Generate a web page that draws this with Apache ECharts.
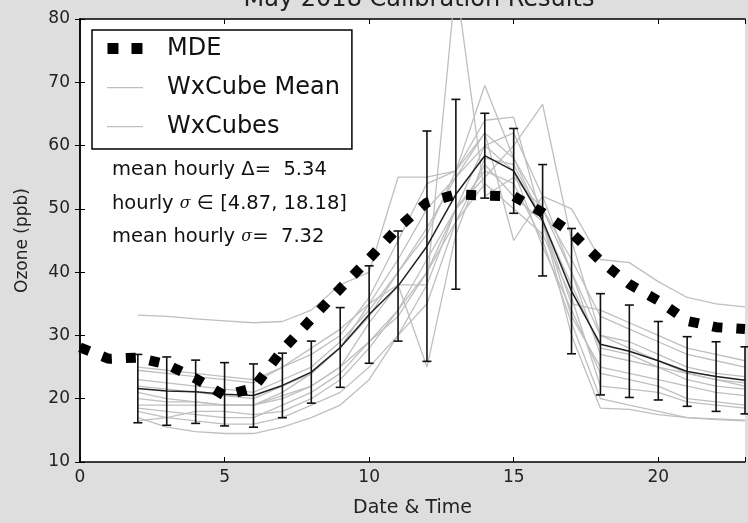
<!DOCTYPE html>
<html>
<head>
<meta charset="utf-8">
<script src="https://cdn.jsdelivr.net/npm/echarts@6/dist/echarts.min.js"></script>
<style>
  html, body { margin: 0; padding: 0; background: #dedede; }
  #chart { width: 748px; height: 523px; }
</style>
</head>
<body>
<div id="chart"></div>
<script>
// hours 0..23
var hours = [0,1,2,3,4,5,6,7,8,9,10,11,12,13,14,15,16,17,18,19,20,21,22,23];

// MDE observed ozone (ppb)
var mde = [28.1, 26.3, 26.5, 25.4, 23.2, 20.5, 21.7, 27.7, 32.6, 37.4, 42.1, 47.0,
           51.0, 52.3, 52.1, 52.0, 49.4, 46.2, 41.8, 38.1, 35.5, 32.3, 31.3, 31.0];

// WxCube ensemble mean and hourly sigma (starts at hour 2)
var cubeMean = [null, null, 21.6, 21.2, 21.1, 20.7, 20.5, 22.1, 24.2, 28.1, 33.3, 37.8,
                44.1, 52.3, 58.4, 56.0, 48.2, 37.0, 28.6, 27.5, 26.0, 24.3, 23.5, 22.9];
var cubeSigma = [null, null, 5.4, 5.4, 5.0, 5.0, 5.0, 5.1, 4.9, 6.3, 7.7, 8.7,
                 18.2, 15.0, 6.7, 6.7, 8.8, 9.9, 8.0, 7.3, 6.2, 5.5, 5.5, 5.3];

// individual WxCube members, hours 2..23
var cube01 = [33.2, 33.0, 32.6, 32.3, 32.0, 32.2, 34, 38, 40, 55, 55, 56, 62, 58, 50, 40, 30, 28, 26, 24, 23, 22];
var cube02 = [25, 24.5, 24, 23.5, 23, 25, 28, 31, 35, 38, 38, 86, 52, 55, 50, 42, 33, 31, 29, 27, 26, 25];
var cube03 = [23, 22.5, 22, 21.5, 21, 23, 25, 29, 34, 40, 46, 56, 69.5, 58, 48, 38, 28, 27, 25, 24, 23, 22.5];
var cube04 = [20, 19.5, 19.5, 19, 19, 20, 22, 25, 29, 33, 40, 50, 55, 60, 66.5, 45, 30, 29, 27, 25, 24, 23.5];
var cube05 = [22, 21.5, 21, 20.5, 20, 22, 24, 28, 33, 40, 47, 55, 62, 45, 52, 40, 27, 26, 25, 23, 22, 21.5];
var cube06 = [19, 19, 19, 19, 19, 21, 24, 28, 35, 42, 50, 55, 60, 62, 52, 50, 42, 41.5, 38.5, 36, 35, 34.5];
var cube07 = [17, 15.5, 14.8, 14.5, 14.5, 15.5, 17, 19, 23, 30, 38, 50, 56, 54, 45, 32, 20, 19, 18, 17, 16.7, 16.5];
var cube08 = [18, 17, 16.5, 16, 16, 17, 19, 21, 25, 30, 35, 48, 57, 52, 48, 30, 18.5, 18.3, 17.5, 17, 16.8, 16.6];
var cube09 = [24.5, 24, 23.5, 23, 22.5, 25, 27, 30, 36, 45, 54, 56, 64, 64.5, 48, 35, 34, 32, 30, 28, 27, 26];
var cube10 = [21, 20, 19.5, 19, 19, 20.5, 22, 25, 32, 38, 25, 46, 58, 57, 48, 33, 25, 24, 23, 22, 21, 20.5];
var cube11 = [16.5, 17, 18, 18, 17.5, 18, 20, 23, 28, 34, 42, 50, 60, 56, 44, 34, 24, 23, 22, 20, 19.5, 19];
var cube12 = [18.5, 18, 17.5, 17, 17, 19, 21, 24, 29, 34, 40, 48, 54, 50, 46, 36, 22, 21.5, 21, 19.5, 19, 18.5];
var cubes = [cube01, cube02, cube03, cube04, cube05, cube06, cube07, cube08, cube09, cube10, cube11, cube12];

var xTicks = [0, 5, 10, 15, 20];
var yTicks = [10, 20, 30, 40, 50, 60, 70, 80];

var FONT = 'DejaVu Sans';
var GREY = '#bfbfbf';
var chart = echarts.init(document.getElementById('chart'));

function pairs(xs, ys) {
    var out = [];
    for (var i = 0; i < xs.length; i++) {
        if (ys[i] != null) out.push([xs[i], ys[i]]);
    }
    return out;
}

var series = [];
cubes.forEach(function (c) {
    series.push({
        name: 'WxCubes',
        type: 'line',
        data: pairs(hours.slice(2), c),
        symbol: 'none',
        clip: true,
        itemStyle: { color: GREY },
        lineStyle: { color: GREY, width: 1.3 },
        z: 2,
        silent: true
    });
});

series.push({
    name: 'WxCube Mean',
    type: 'line',
    data: pairs(hours, cubeMean),
    symbol: 'none',
    itemStyle: { color: GREY },
    lineStyle: { color: '#222', width: 1.5 },
    z: 3
});

// error bars (mean +/- sigma)
var errData = [];
hours.forEach(function (h, i) {
    if (cubeMean[i] != null) errData.push([h, cubeMean[i] - cubeSigma[i], cubeMean[i] + cubeSigma[i]]);
});
series.push({
    type: 'custom',
    data: errData,
    z: 4,
    renderItem: function (params, api) {
        var lo = api.coord([api.value(0), api.value(1)]);
        var hi = api.coord([api.value(0), api.value(2)]);
        var st = { stroke: '#111', lineWidth: 1.6 };
        return {
            type: 'group',
            children: [
                { type: 'line', shape: { x1: lo[0], y1: lo[1], x2: hi[0], y2: hi[1] }, style: st },
                { type: 'line', shape: { x1: lo[0] - 4.5, y1: lo[1], x2: lo[0] + 4.5, y2: lo[1] }, style: st },
                { type: 'line', shape: { x1: hi[0] - 4.5, y1: hi[1], x2: hi[0] + 4.5, y2: hi[1] }, style: st }
            ]
        };
    }
});

series.push({
    name: 'MDE',
    type: 'line',
    data: pairs(hours, mde),
    symbol: 'none',
    itemStyle: { color: '#000' },
    lineStyle: { color: '#000', width: 10, type: [10, 14], cap: 'butt' },
    z: 5
});

var lineIcon = 'path://M0,5h36v1.3h-36z M0,0h0.01v0.01h-0.01z M0,11h0.01v0.01h-0.01z';
var dotIcon = 'path://M0,0h11v11h-11z M24,0h11v11h-11z';

var option = {
    backgroundColor: '#dedede',
    animation: false,
    textStyle: { fontFamily: FONT },
    grid: { left: 80, top: 19, width: 673, height: 445, show: true, backgroundColor: '#fff', borderWidth: 0 },
    xAxis: [{
        type: 'value', min: 0, max: 23, interval: 5,
        name: 'Date & Time', nameLocation: 'middle', nameGap: 37,
        nameTextStyle: { fontSize: 19, color: '#222', fontFamily: FONT },
        axisLine: { lineStyle: { color: '#000', width: 1.5 } },
        axisTick: { inside: true, length: 5, lineStyle: { color: '#000' } },
        axisLabel: { fontSize: 17, color: '#222', margin: 7, fontFamily: FONT,
            formatter: function (v) { return xTicks.indexOf(v) >= 0 ? v : ''; } },
        splitLine: { show: false }
    }, {
        type: 'value', min: 0, max: 23, interval: 5, position: 'top',
        axisLine: { lineStyle: { color: '#000', width: 1.5 } },
        axisTick: { inside: true, length: 5, lineStyle: { color: '#000' } },
        axisLabel: { show: false },
        splitLine: { show: false }
    }],
    yAxis: [{
        type: 'value', min: 10, max: 80, interval: 10,
        name: 'Ozone (ppb)', nameLocation: 'middle', nameGap: 49,
        nameTextStyle: { fontSize: 17, color: '#222', fontFamily: FONT },
        axisLine: { show: true, lineStyle: { color: '#000', width: 1.5 } },
        axisTick: { show: true, inside: true, length: 5, lineStyle: { color: '#000' } },
        axisLabel: { fontSize: 17, color: '#222', margin: 10, fontFamily: FONT,
            formatter: function (v) { return yTicks.indexOf(v) >= 0 ? v : ''; } },
        splitLine: { show: false }
    }, {
        type: 'value', min: 10, max: 80, interval: 10, position: 'right',
        axisLine: { show: true, lineStyle: { color: '#000', width: 1.5 } },
        axisTick: { show: true, inside: true, length: 5, lineStyle: { color: '#000' } },
        axisLabel: { show: false },
        splitLine: { show: false }
    }],
    title: {
        text: 'May 2018 Calibration Results',
        left: 414, top: -17, textAlign: 'center',
        textStyle: { fontSize: 24, fontWeight: 'normal', color: '#222', fontFamily: FONT }
    },
    legend: {
        orient: 'vertical',
        left: 92, top: 30,
        padding: [5, 12, 9, 15],
        itemWidth: 36, itemHeight: 11, itemGap: 12,
        backgroundColor: '#fff',
        borderColor: '#000', borderWidth: 1.5, borderRadius: 0,
        itemStyle: { borderWidth: 0 },
        textStyle: { fontSize: 24, color: '#111', fontFamily: FONT, padding: [0, 0, 0, 19], lineHeight: 27 },
        data: [
            { name: 'MDE', icon: dotIcon, itemStyle: { color: '#000', borderWidth: 0 } },
            { name: 'WxCube Mean', icon: lineIcon, itemStyle: { color: GREY, borderWidth: 0 } },
            { name: 'WxCubes', icon: lineIcon, itemStyle: { color: GREY, borderWidth: 0 } }
        ]
    },
    graphic: [{
        type: 'text', left: 112, top: 160,
        style: {
            text: 'mean hourly Δ=  5.34',
            font: '19.5px "DejaVu Sans"', fill: '#111'
        }
    }, {
        type: 'text', left: 112, top: 194,
        style: {
            text: 'hourly {s|σ} ∈ [4.87, 18.18]',
            font: '19.5px "DejaVu Sans"', fill: '#111',
            rich: { s: { fontFamily: 'DejaVu Serif', fontStyle: 'italic', fontSize: 16, fill: '#111' } }
        }
    }, {
        type: 'text', left: 112, top: 227,
        style: {
            text: 'mean hourly {s|σ}=  7.32',
            font: '19.5px "DejaVu Sans"', fill: '#111',
            rich: { s: { fontFamily: 'DejaVu Serif', fontStyle: 'italic', fontSize: 16, fill: '#111' } }
        }
    }],
    series: series
};

chart.setOption(option);
</script>
</body>
</html>
